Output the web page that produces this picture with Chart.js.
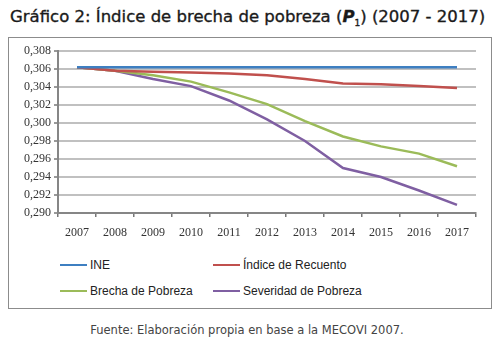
<!DOCTYPE html>
<html>
<head>
<meta charset="utf-8">
<script src="https://cdn.jsdelivr.net/npm/chart.js@4"></script>
<style>
  body { margin:0; width:502px; height:345px; background:#fff; position:relative; overflow:hidden; }
  #title { position:absolute; left:10px; top:7px; font-family:"DejaVu Sans"; font-size:16.5px; color:#1a1a1a; white-space:nowrap; -webkit-text-stroke:0.35px #1a1a1a; }
  #frame { position:absolute; left:8px; top:37px; width:482px; height:270px; border:1px solid #8c8c8c; }
  #chartbox { position:absolute; left:8px; top:38px; width:484px; height:210px; }
  .leg { position:absolute; font-family:"Liberation Sans"; font-size:12px; color:#222; white-space:nowrap; }
  .leg span { display:inline-block; width:27px; height:2px; vertical-align:middle; margin-right:3px; position:relative; top:-1px; }
  #source { position:absolute; left:0; width:494px; top:323px; text-align:center; font-family:"DejaVu Sans"; font-size:11.5px; color:#444; }
</style>
</head>
<body>
<div id="title">Gráfico 2: Índice de brecha de pobreza (<b><i>P</i></b><sub style="font-size:9px">1</sub>) (2007 - 2017)</div>
<div id="frame"></div>
<div id="chartbox"><canvas id="chart" width="484" height="210"></canvas></div>
<div id="legend"></div>
<div id="source">Fuente: Elaboración propia en base a la MECOVI 2007.</div>
<script>
const years = ["2007","2008","2009","2010","2011","2012","2013","2014","2015","2016","2017"];
const ine = [0.3062,0.3062,0.3062,0.3062,0.3062,0.3062,0.3062,0.3062,0.3062,0.3062,0.3062];
const recuento = [0.3062,0.3058,0.3057,0.3056,0.3055,0.3053,0.3049,0.3044,0.3043,0.3041,0.3039];
const brecha = [0.3062,0.3058,0.3053,0.3046,0.3034,0.3021,0.3002,0.2985,0.2974,0.2966,0.2952];
const severidad = [0.3062,0.3058,0.3049,0.3041,0.3025,0.3004,0.2980,0.2950,0.2940,0.2925,0.2909];
const seriesNames = ["INE","Índice de Recuento","Brecha de Pobreza","Severidad de Pobreza"];
const seriesColors = ["#3e7fc1","#c0504d","#9bbb59","#7f5fa2"];

const allSeries = [ine, recuento, brecha, severidad];
const datasets = allSeries.map(function(d, i){
  return {
    label: seriesNames[i],
    data: d,
    borderColor: seriesColors[i],
    backgroundColor: seriesColors[i],
    borderWidth: 2.5,
    pointRadius: 0,
    tension: 0,
    fill: false
  };
});

// legend (two columns, like the original)
const legPos = [[60,258],[213,258],[60,284],[213,284]];
const legend = document.getElementById("legend");
seriesNames.forEach(function(n, i){
  const el = document.createElement("div");
  el.className = "leg";
  el.style.left = legPos[i][0] + "px";
  el.style.top = legPos[i][1] + "px";
  el.innerHTML = '<span style="background:' + seriesColors[i] + '"></span>' + n;
  legend.appendChild(el);
});

new Chart(document.getElementById("chart"), {
  type: "line",
  data: { labels: years, datasets: datasets },
  options: {
    responsive: false,
    animation: false,
    layout: { padding: { top: 13, right: 16, left: 0, bottom: 0 } },
    plugins: { legend: { display: false }, tooltip: { enabled: false } },
    scales: {
      x: {
        offset: true,
        afterFit: function(s){ s.height = 35; },
        grid: { display: true, drawOnChartArea: false, drawTicks: true, tickLength: 4, color: "#777", lineWidth: 1.5, offset: true },
        border: { color: "#868686", width: 2 },
        ticks: { color: "#333", padding: 9, font: { family: "Liberation Serif", size: 12 } }
      },
      y: {
        min: 0.290,
        max: 0.308,
        afterFit: function(s){ s.width = 50; },
        grid: { color: "#c0c0c0", lineWidth: 2, tickLength: 4, tickColor: "#777", tickWidth: 1.5 },
        border: { color: "#868686", width: 2 },
        ticks: {
          stepSize: 0.002,
          color: "#333",
          padding: 3,
          font: { family: "Liberation Serif", size: 12 },
          callback: function(v){ return v.toFixed(3).replace(".", ","); }
        }
      }
    }
  }
});
</script>
</body>
</html>
